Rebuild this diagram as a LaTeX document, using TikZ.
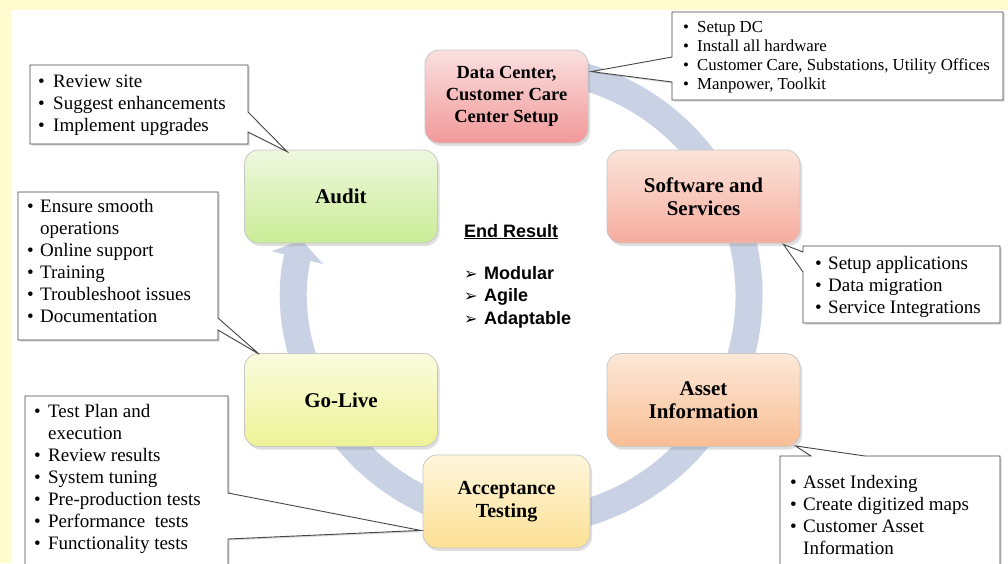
\documentclass[tikz,border=0pt]{standalone}
\usepackage{fontspec}
\setmainfont{Liberation Serif}
\newfontfamily\arialfont{Liberation Sans}
\newfontfamily\dejavu{DejaVu Sans}
\usetikzlibrary{shadows,arrows.meta,calc}
\definecolor{bgyellow}{RGB}{255,253,208}
\definecolor{arcblue}{RGB}{200,210,228}
\definecolor{callgray}{RGB}{70,70,70}
\definecolor{dcTop}{RGB}{251,224,224}\definecolor{dcBot}{RGB}{241,152,152}
\definecolor{swTop}{RGB}{252,228,218}\definecolor{swBot}{RGB}{245,172,158}
\definecolor{asTop}{RGB}{253,232,216}\definecolor{asBot}{RGB}{248,190,148}
\definecolor{acTop}{RGB}{255,246,220}\definecolor{acBot}{RGB}{252,224,148}
\definecolor{glTop}{RGB}{250,252,222}\definecolor{glBot}{RGB}{237,243,150}
\definecolor{auTop}{RGB}{238,248,222}\definecolor{auBot}{RGB}{202,236,150}
\newcommand{\bl}[1]{\makebox[#1][l]{\textbullet}}
\newcommand{\arrbul}{\makebox[20pt][l]{\dejavu\bfseries\fontsize{16}{16}\selectfont ➢}}
\begin{document}
\begin{tikzpicture}[x=1pt,y=-1pt,
  stage/.style={draw=black!22, line width=0.8pt, rounded corners=14pt,
    minimum width=193, minimum height=93, align=center, inner sep=2pt,
    font=\bfseries\fontsize{21}{23}\selectfont,
    drop shadow={shadow xshift=2pt, shadow yshift=-3pt, opacity=0.25}},
  callout/.style={draw=callgray, fill=white, line width=0.9pt, line join=miter,
    drop shadow={shadow xshift=1.5pt, shadow yshift=-1.5pt, opacity=0.3}},
  ctext/.style={anchor=base west, inner sep=0pt, font=\fontsize{19}{22}\selectfont},
  cband/.style={line width=27pt, draw=arcblue, -{Triangle[width=52pt,length=18pt]}}
]
\clip (0,0) rectangle (1008,563);
\fill[bgyellow] (0,0) rectangle (1008,563);
\fill[white] (12,10) rectangle (1008,563);

% cycle band
\draw[cband] (522,295) ++(-100:227) arc[start angle=-100, end angle=194, radius=227];

% stages
\node[stage, minimum width=163, font=\bfseries\fontsize{18.5}{22}\selectfont,
  top color=dcTop, bottom color=dcBot] (dc) at (506.5,96.5) {Data Center,\\Customer Care\\Center Setup};
\node[stage, top color=swTop, bottom color=swBot] (sw) at (703.5,196.5) {Software and\\Services};
\node[stage, top color=asTop, bottom color=asBot] (asset) at (703.5,400) {Asset\\Information};
\node[stage, minimum width=167, font=\bfseries\fontsize{20}{23}\selectfont,
  top color=acTop, bottom color=acBot] (accept) at (506.5,501.5) {Acceptance\\Testing};
\node[stage, top color=glTop, bottom color=glBot] (golive) at (341,400) {Go-Live};
\node[stage, top color=auTop, bottom color=auBot] (audit) at (341,196.5) {Audit};

% callouts
\draw[callout] (30,65) -- (248,65) -- (248,112) -- ($(audit.north west)+(43,2)$) -- (248,132) -- (248,144) -- (30,144) -- cycle;
\node[ctext] (tAudit) at (38,87) {\parbox[t]{210pt}{\bl{15pt}Review site\\\bl{15pt}Suggest enhancements\\\bl{15pt}Implement upgrades}};

\draw[callout] (18,192) -- (218,192) -- (218,318) -- ($(golive.north west)+(15,1)$) -- (218,330) -- (218,340) -- (18,340) -- cycle;
\node[ctext] (tGolive) at (27,212) {\parbox[t]{190pt}{\bl{13pt}Ensure smooth\\\hspace*{13pt}operations\\\bl{13pt}Online support\\\bl{13pt}Training\\\bl{13pt}Troubleshoot issues\\\bl{13pt}Documentation}};

\draw[callout] (25,580) -- (25,396) -- (228,396) -- (228,493) -- ($(accept.south west)+(-2,-18)$) -- (228,539) -- (228,580);
\node[ctext] (tAccept) at (34,417) {\parbox[t]{190pt}{\bl{14pt}Test Plan and\\\hspace*{14pt}execution\\\bl{14pt}Review results\\\bl{14pt}System tuning\\\bl{14pt}Pre-production tests\\\bl{14pt}Performance\ \ tests\\\bl{14pt}Functionality tests}};

\draw[callout] (672,12) -- (1003,12) -- (1003,100) -- (672,100) -- (672,82) -- ($(dc.north east)+(3,22)$) -- (672,57) -- cycle;
\node[ctext, font=\fontsize{16.8}{19}\selectfont] (tDc) at (683,32) {\parbox[t]{320pt}{\bl{14pt}Setup DC\\\bl{14pt}Install all hardware\\\bl{14pt}Customer Care, Substations, Utility Offices\\\bl{14pt}Manpower, Toolkit}};

\draw[callout] (803,246) -- (1000,246) -- (1000,323) -- (803,323) -- (803,272) -- ($(sw.south east)+(-17,1)$) -- (803,252) -- cycle;
\node[ctext] (tSw) at (815,269) {\parbox[t]{185pt}{\bl{13pt}Setup applications\\\bl{13pt}Data migration\\\bl{13pt}Service Integrations}};

\draw[callout] (780,580) -- (780,456) -- (811,456) -- ($(asset.south east)+(-5,-1)$) -- (865,456) -- (1000,456) -- (1000,580);
\node[ctext] (tAsset) at (790,488) {\parbox[t]{205pt}{\bl{13pt}Asset Indexing\\\bl{13pt}Create digitized maps\\\bl{13pt}Customer Asset\\\hspace*{13pt}Information}};

% end result
\node[anchor=base west, inner sep=0pt, font=\arialfont\bfseries\fontsize{18}{22}\selectfont] (endt) at (464,237) {\underline{End Result}};
\node[anchor=base west, inner sep=0pt, font=\arialfont\bfseries\fontsize{18}{22.5}\selectfont] (endl) at (464,279) {\parbox[t]{140pt}{\arrbul Modular\\\arrbul Agile\\\arrbul Adaptable}};
\end{tikzpicture}
\end{document}
